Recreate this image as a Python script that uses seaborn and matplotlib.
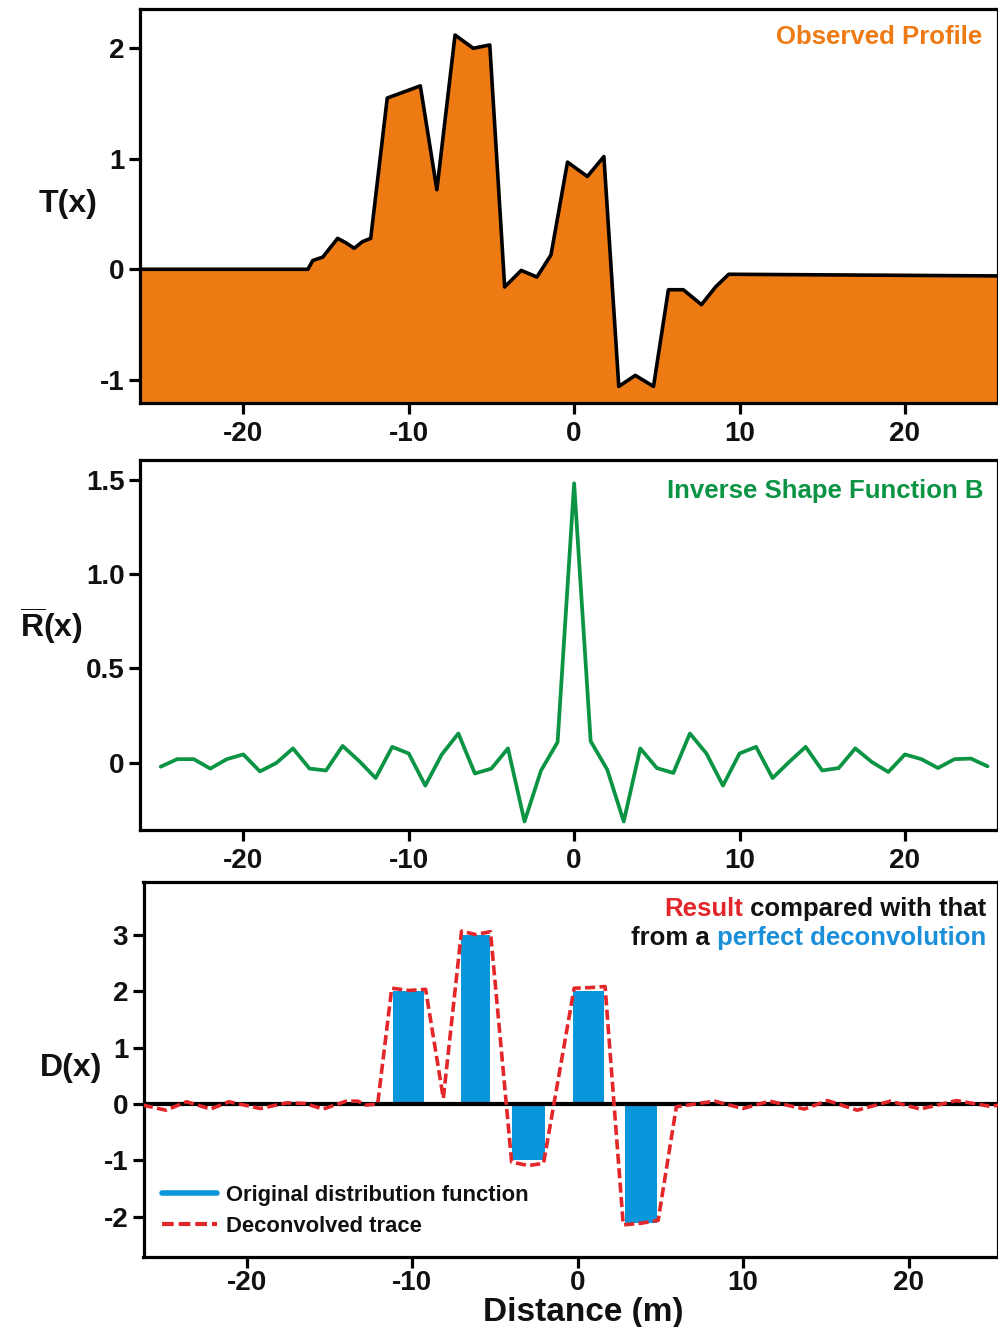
import numpy as np
import pandas as pd
import matplotlib
matplotlib.use("Agg")
import matplotlib.pyplot as plt
import seaborn as sns
from matplotlib.lines import Line2D

# ---------------- data ----------------
profile_x = [-26.3, -16.1, -15.8, -15.2, -14.3, -13.8, -13.3, -12.8, -12.3, -11.3, -10.2, -9.3,
             -8.3, -7.2, -6.1, -5.1, -4.2, -3.2, -2.25, -1.4, -0.4, 0.8, 1.8, 2.7, 3.7, 4.8,
             5.7, 6.6, 7.7, 8.55, 9.35, 25.7]
profile_T = [0.0, 0.0, 0.08, 0.11, 0.28, 0.24, 0.19, 0.25, 0.28, 1.55, 1.61, 1.66,
             0.72, 2.12, 2.0, 2.03, -0.16, -0.01, -0.07, 0.13, 0.97, 0.84, 1.02, -1.06, -0.96, -1.06,
             -0.185, -0.185, -0.32, -0.16, -0.045, -0.06]

shape_x = list(range(-25, 26))
shape_R = [-0.02, 0.02, 0.02, -0.03, 0.02, 0.045, -0.045, 0.0, 0.077, -0.03, -0.04, 0.09, 0.01,
           -0.08, 0.085, 0.05, -0.12, 0.045, 0.156, -0.056, -0.03, 0.077, -0.31, -0.04, 0.11,
           1.48,
           0.115, -0.035, -0.31, 0.077, -0.027, -0.053, 0.156, 0.05, -0.12, 0.05, 0.085, -0.08,
           0.005, 0.085, -0.04, -0.027, 0.077, 0.005, -0.048, 0.045, 0.02, -0.027, 0.02, 0.023, -0.018]

dec_x = [-26.3, -24.9, -23.65, -22.2, -21.1, -19.2, -17.6, -16.5, -15.4, -14.0, -13.3, -12.8,
         -12.1, -11.25, -10.2, -9.2, -8.13, -7.03, -6.19, -5.28, -4.0, -2.97, -2.07, -0.22, 0.7,
         1.65, 2.75, 3.86, 4.86, 5.96, 7.07, 8.27, 9.98, 11.6, 13.7, 15.1, 16.9, 18.9, 20.7,
         22.9, 24.9, 25.5]
dec_D = [-0.02, -0.11, 0.04, -0.09, 0.04, -0.08, 0.02, 0.01, -0.09, 0.05, 0.05, -0.02,
         0.0, 2.05, 2.01, 2.03, 0.1, 3.06, 3.0, 3.05, -1.03, -1.09, -1.05, 2.05, 2.06,
         2.08, -2.14, -2.11, -2.06, -0.05, 0.0, 0.05, -0.08, 0.05, -0.09, 0.06, -0.11, 0.05, -0.09,
         0.06, -0.04, -0.02]

bar_left = [-11.2, -7.05, -4.0, -0.3, 2.85]
bar_right = [-9.3, -5.3, -2.0, 1.6, 4.8]
bar_height = [2.0, 3.0, -1.0, 2.0, -2.1]

x_ticks = [-20, -10, 0, 10, 20]
top_yticks = [-1, 0, 1, 2]
top_yticklabels = ["-1", "0", "1", "2"]
mid_yticks = [0, 0.5, 1.0, 1.5]
mid_yticklabels = ["0", "0.5", "1.0", "1.5"]
bot_yticks = [-2, -1, 0, 1, 2, 3]
bot_yticklabels = ["-2", "-1", "0", "1", "2", "3"]

ORANGE = "#EE7A14"
GREEN = "#0B9444"
RED = "#E3262A"
BLUE = "#0A96DB"
TBLUE = "#1A8FDA"

# ---------------- style ----------------
sns.set_theme(style="white")
plt.rcParams["font.family"] = ["Liberation Sans", "DejaVu Sans"]
plt.rcParams["font.weight"] = "bold"
plt.rcParams["axes.unicode_minus"] = False
plt.rcParams["mathtext.fontset"] = "custom"
plt.rcParams["mathtext.rm"] = "Liberation Sans:bold"
plt.rcParams["mathtext.bf"] = "Liberation Sans:bold"
plt.rcParams["mathtext.it"] = "Liberation Sans:bold"

W, H = 998, 1327
fig = plt.figure(figsize=(W / 100, H / 100), dpi=100)

def px_axes(left, top, right, bottom):
    return fig.add_axes([left / W, 1 - bottom / H, (right - left) / W, (bottom - top) / H])

ax1 = px_axes(140, 8.5, 997.5, 403)
ax2 = px_axes(140, 459.5, 997.5, 830)
ax3 = px_axes(143.5, 882, 997.5, 1256.5)

def style(ax, yticks, ylabels, xpad=5):
    for s in ax.spines.values():
        s.set_visible(True)
        s.set_color("black")
        s.set_linewidth(2.3)
    ax.set_xticks(x_ticks)
    ax.set_xticklabels([str(t) for t in x_ticks])
    ax.set_yticks(yticks)
    ax.set_yticklabels(ylabels)
    ax.tick_params(axis="both", which="major", bottom=True, left=True, direction="out",
                   length=8, width=2.3, color="black", labelcolor="#111111", labelsize=20)
    ax.tick_params(axis="x", pad=xpad)
    ax.tick_params(axis="y", pad=3)
    for lab in ax.get_xticklabels() + ax.get_yticklabels():
        lab.set_fontweight("bold")
    ax.set_xlabel("")
    ax.set_ylabel("")
    ax.grid(False)
    ax.set_facecolor("white")

# ---------------- top panel ----------------
ax1.fill_between(profile_x, profile_T, -1.5, color=ORANGE, linewidth=0, zorder=1)
sns.lineplot(x=profile_x, y=profile_T, ax=ax1, color="black", linewidth=2.6,
             sort=False, estimator=None, zorder=2)
ax1.set_xlim(-26.25, 25.6)
ax1.set_ylim(-1.21, 2.36)
style(ax1, top_yticks, top_yticklabels)
ax1.text(0.982, 0.911, "Observed Profile", transform=ax1.transAxes, ha="right",
         va="baseline", color=ORANGE, fontsize=18.5, fontweight="bold")

# ---------------- middle panel ----------------
sns.lineplot(x=shape_x, y=shape_R, ax=ax2, color=GREEN, linewidth=2.7,
             sort=False, estimator=None)
ax2.set_xlim(-26.25, 25.6)
ax2.set_ylim(-0.355, 1.606)
style(ax2, mid_yticks, mid_yticklabels)
ax2.text(0.984, 0.896, "Inverse Shape Function B", transform=ax2.transAxes, ha="right",
         va="baseline", color=GREEN, fontsize=18.5, fontweight="bold")

# ---------------- bottom panel ----------------
widths = [r - l for l, r in zip(bar_left, bar_right)]
ax3.bar(bar_left, bar_height, width=widths, align="edge", color=BLUE, linewidth=0, zorder=1)
ax3.axhline(0, color="black", linewidth=3.0, zorder=2)
sns.lineplot(x=dec_x, y=dec_D, ax=ax3, color=RED, linewidth=2.6, sort=False,
             estimator=None, zorder=3)
ax3.lines[-1].set_linestyle((0, (2.8, 1.2)))
ax3.set_xlim(-26.26, 25.38)
ax3.set_ylim(-2.70, 3.93)
style(ax3, bot_yticks, bot_yticklabels, xpad=2)

handles = [Line2D([0], [0], color=BLUE, linewidth=4),
           Line2D([0], [0], color=RED, linewidth=3, linestyle=(0, (2.8, 1.2)))]
leg = ax3.legend(handles, ["Original distribution function", "Deconvolved trace"],
                 loc="lower left", bbox_to_anchor=(0.022, 0.052), frameon=False,
                 fontsize=15.8, handlelength=2.5, handletextpad=0.4, labelspacing=0.45,
                 borderpad=0, borderaxespad=0)
for t in leg.get_texts():
    t.set_fontweight("bold")
    t.set_color("#111111")

# two-colour annotation
t1 = ax3.text(0.987, 0.9085, " compared with that", transform=ax3.transAxes, ha="right",
              va="baseline", color="#111111", fontsize=18.5, fontweight="bold")
t2 = ax3.text(0.987, 0.831, " perfect deconvolution", transform=ax3.transAxes, ha="right",
              va="baseline", color=TBLUE, fontsize=18.5, fontweight="bold")
fig.canvas.draw()
r = fig.canvas.get_renderer()
inv = ax3.transAxes.inverted()
b1 = t1.get_window_extent(r)
x1 = inv.transform((b1.x0, b1.y0))[0]
ax3.text(x1, 0.9085, "Result", transform=ax3.transAxes, ha="right", va="baseline",
         color=RED, fontsize=18.5, fontweight="bold")
b2 = t2.get_window_extent(r)
x2 = inv.transform((b2.x0, b2.y0))[0]
ax3.text(x2, 0.831, "from a", transform=ax3.transAxes, ha="right", va="baseline",
         color="#111111", fontsize=18.5, fontweight="bold")

# ---------------- labels ----------------
fig.text(68 / W, 1 - 204 / H, "T(x)", ha="center", va="center", fontsize=23,
         fontweight="bold", color="#111111")
fig.text(51 / W, 1 - 626 / H, r"$\overline{\mathrm{R}}$(x)", ha="center", va="center",
         fontsize=23, fontweight="bold", color="#111111")
fig.text(71 / W, 1 - 1068 / H, "D(x)", ha="center", va="center", fontsize=23,
         fontweight="bold", color="#111111")
fig.text(583 / W, 1 - 1312 / H, "Distance (m)", ha="center", va="center", fontsize=24,
         fontweight="bold", color="#111111")

fig.savefig("out.png", dpi=100, facecolor="white")
